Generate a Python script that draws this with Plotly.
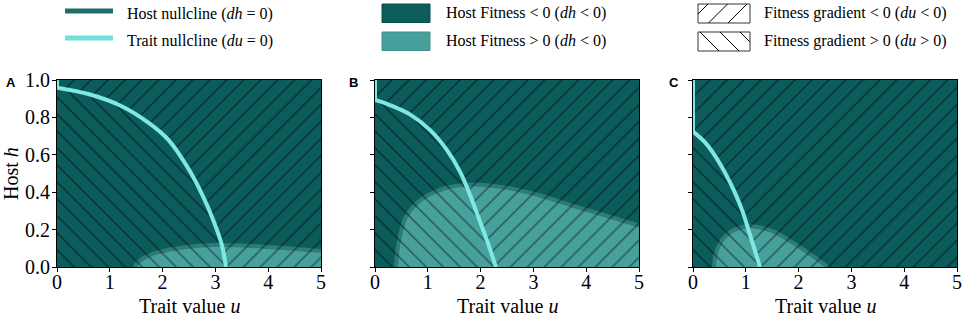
import plotly.graph_objects as go

W, H = 964, 317

# ---------------- data ----------------
X_RANGE = [0, 5]
Y_RANGE = [0, 1]
x_ticks = [0, 1, 2, 3, 4, 5]
y_ticks = [0.0, 0.2, 0.4, 0.6, 0.8, 1.0]

# Trait nullcline (du = 0); above the first point it runs straight up the h axis
trait_u_A = [0.0, 0.593, 1.225, 1.73, 2.11, 2.49, 2.77, 2.96, 3.12, 3.2]
trait_h_A = [0.959, 0.925, 0.86, 0.772, 0.68, 0.525, 0.375, 0.25, 0.12, 0.0]
trait_u_B = [0.0, 0.28, 0.66, 1.04, 1.36, 1.61, 1.8, 1.99, 2.15, 2.29]
trait_h_B = [0.893, 0.866, 0.816, 0.733, 0.626, 0.51, 0.385, 0.242, 0.118, 0.0]
trait_u_C = [0.0, 0.215, 0.405, 0.595, 0.785, 0.94, 1.1, 1.27]
trait_h_C = [0.724, 0.67, 0.6, 0.51, 0.403, 0.296, 0.153, 0.0]

# Host nullcline (dh = 0) bounding the region where host fitness > 0
host_u_A = [1.48, 1.52, 1.6, 1.75, 2.0, 2.5, 3.0, 3.5, 4.0, 4.5, 5.0]
host_h_A = [0.0, 0.02, 0.04, 0.063, 0.085, 0.108, 0.117, 0.115, 0.107, 0.097, 0.085]
host_u_B = [0.4, 0.43, 0.49, 0.58, 0.76, 1.01, 1.31, 1.67, 2.0, 2.46, 3.09, 3.72, 4.34, 5.0]
host_h_B = [0.0, 0.1, 0.185, 0.265, 0.333, 0.385, 0.42, 0.438, 0.44, 0.425, 0.385, 0.33, 0.278, 0.222]
host_u_C = [0.4, 0.43, 0.53, 0.72, 0.97, 1.12, 1.52, 1.9, 2.28, 2.55]
host_h_C = [0.0, 0.07, 0.135, 0.19, 0.215, 0.218, 0.19, 0.128, 0.057, 0.0]

panel_labels = ["A", "B", "C"]
x_title = "Trait value <i>u</i>"
y_title = "Host <i>h</i>"
legend_texts = [
    "Host nullcline (<i>dh</i> = 0)",
    "Trait nullcline (<i>du</i> = 0)",
    "Host Fitness &lt; 0 (<i>dh</i> &lt; 0)",
    "Host Fitness &gt; 0 (<i>dh</i> &lt; 0)",
    "Fitness gradient &lt; 0 (<i>du</i> &lt; 0)",
    "Fitness gradient &gt; 0 (<i>du</i> &gt; 0)",
]

# ---------------- style ----------------
DARK = "#0c5c5c"
LIGHT = "#47a09b"
BORDER = "#2c7c78"
CYAN = "#7fe8e2"
SERIF = "Liberation Serif, Times New Roman, serif"
SANS = "Liberation Sans, Arial, sans-serif"


def px(x):
    return x / W


def py(y):
    return 1 - y / H


panels = [
    (trait_u_A, trait_h_A, host_u_A, host_h_A),
    (trait_u_B, trait_h_B, host_u_B, host_h_B),
    (trait_u_C, trait_h_C, host_u_C, host_h_C),
]
x_doms = [(57, 321), (375, 639), (693, 957)]
y_dom = (80, 267)

fig = go.Figure()
layout = dict(
    width=W, height=H,
    margin=dict(l=0, r=0, t=0, b=0, autoexpand=False),
    paper_bgcolor="white",
    plot_bgcolor=DARK,
    showlegend=False,
)

pat_common = dict(fgcolor="black", bgcolor="rgba(0,0,0,0)", size=12, solidity=0.11)
NOLINE = dict(width=0, color="rgba(0,0,0,0)")

for i, (tu, th, hu, hh) in enumerate(panels):
    sfx = "" if i == 0 else str(i + 1)
    xa, ya = "x" + sfx, "y" + sfx
    kw = dict(xaxis=xa, yaxis=ya, hoverinfo="skip")
    # host fitness > 0 region, bounded by the host nullcline
    fig.add_trace(go.Scatter(x=hu, y=hh, mode="lines", fill="tozeroy",
                             fillcolor=LIGHT, line=dict(color=BORDER, width=4, shape="spline"),
                             **kw))
    # du > 0 region (below trait nullcline) -> "\" hatch
    fig.add_trace(go.Scatter(x=tu, y=th, mode="lines", fill="tozeroy",
                             fillcolor="rgba(0,0,0,0)",
                             line=dict(width=0, color="rgba(0,0,0,0)", shape="spline"),
                             fillpattern=dict(shape="\\", **pat_common), **kw))
    # upper/right boundary of the plot window (invisible helper)
    fig.add_trace(go.Scatter(x=[X_RANGE[0], X_RANGE[0], X_RANGE[1], X_RANGE[1]],
                             y=[th[0], Y_RANGE[1], Y_RANGE[1], Y_RANGE[0]],
                             mode="lines", line=NOLINE, **kw))
    # du < 0 region (above trait nullcline) -> "/" hatch
    fig.add_trace(go.Scatter(x=tu, y=th, mode="lines", fill="tonexty",
                             fillcolor="rgba(0,0,0,0)",
                             line=dict(width=0, color="rgba(0,0,0,0)", shape="spline"),
                             fillpattern=dict(shape="/", **pat_common), **kw))
    # trait nullcline: vertical part along the axis, then the curve
    fig.add_trace(go.Scatter(x=[tu[0], tu[0]], y=[Y_RANGE[1], th[0]], mode="lines",
                             line=dict(color=CYAN, width=4), **kw))
    fig.add_trace(go.Scatter(x=tu, y=th, mode="lines",
                             line=dict(color=CYAN, width=4, shape="spline"), **kw))

    axcommon = dict(showgrid=False, zeroline=False, showline=True, linecolor="black",
                    linewidth=1, mirror=True, ticks="outside", ticklen=4,
                    tickcolor="black", tickwidth=1, automargin=False,
                    ticklabeloverflow="allow",
                    tickfont=dict(family=SERIF, size=20, color="black"))
    layout["xaxis" + sfx] = dict(domain=[px(x_doms[i][0]), px(x_doms[i][1])], anchor=ya,
                                 range=X_RANGE, tickvals=x_ticks, ticklabelstandoff=-7,
                                 **axcommon)
    layout["yaxis" + sfx] = dict(domain=[py(y_dom[1]), py(y_dom[0])], anchor=xa,
                                 range=Y_RANGE, tickvals=y_ticks, tickformat=".1f",
                                 showticklabels=(i == 0), ticklabelstandoff=-2, **axcommon)

fig.update_layout(**layout)

ann = []
shapes = []
# panel letters
for lab, xl in zip(panel_labels, [10.5, 353.5, 673.5]):
    ann.append(dict(x=px(xl), y=py(83), xref="paper", yref="paper", text="<b>%s</b>" % lab,
                    showarrow=False, font=dict(family=SANS, size=13, color="black"),
                    xanchor="center", yanchor="middle"))
# axis titles
for (x0, x1) in x_doms:
    ann.append(dict(x=px((x0 + x1) / 2), y=py(306), xref="paper", yref="paper", text=x_title,
                    showarrow=False, font=dict(family=SERIF, size=20, color="black"),
                    xanchor="center", yanchor="middle"))
ann.append(dict(x=px(11), y=py(174), xref="paper", yref="paper", text=y_title, textangle=-90,
                showarrow=False, font=dict(family=SERIF, size=20, color="black"),
                xanchor="center", yanchor="middle"))

# legend texts
leg_pos = [(125, 14), (125, 41), (444, 13.5), (444, 41), (762, 13.5), (762, 41)]
for t, (lx, ly) in zip(legend_texts, leg_pos):
    ann.append(dict(x=px(lx), y=py(ly), xref="paper", yref="paper", text=t, showarrow=False,
                    font=dict(family=SERIF, size=16, color="black"),
                    xanchor="left", yanchor="middle"))


def pline(x0, y0, x1, y1, color, width):
    return dict(type="line", xref="paper", yref="paper", x0=px(x0), y0=py(y0),
                x1=px(x1), y1=py(y1), line=dict(color=color, width=width))


def prect(x0, y0, x1, y1, fill, edge):
    return dict(type="rect", xref="paper", yref="paper", x0=px(x0), y0=py(y0),
                x1=px(x1), y1=py(y1), fillcolor=fill, line=dict(color=edge, width=1))


shapes.append(pline(65, 11, 113, 11, "#1f6e6c", 5))
shapes.append(pline(65, 38, 113, 38, "#72dfd9", 5))
shapes.append(prect(382, 4, 430, 22.5, DARK, "#0a4c4c"))
shapes.append(prect(382, 32, 430, 50.5, LIGHT, "#3d918c"))
shapes.append(prect(698, 4, 750, 23, "white", "#2b3b3b"))
shapes.append(prect(698, 32, 750, 51, "white", "#2b3b3b"))


def clip_diag(bx0, by0, bx1, by1, c, sign):
    # sign=+1: "/" lines x + y = c ; sign=-1: "\" lines x - y = c
    pts = []
    for yy in (by0, by1):
        xx = c - yy if sign > 0 else c + yy
        if bx0 <= xx <= bx1:
            pts.append((xx, yy))
    for xx in (bx0, bx1):
        yy = c - xx if sign > 0 else xx - c
        if by0 <= yy <= by1:
            pts.append((xx, yy))
    pts = sorted(set(pts))
    if len(pts) >= 2:
        return pts[0], pts[-1]
    return None


for c in [712, 731.5, 751]:
    seg = clip_diag(698, 4, 750, 23, c, +1)
    if seg:
        shapes.append(pline(seg[0][0], seg[0][1], seg[1][0], seg[1][1], "black", 1))
for c in [668, 688, 708]:
    seg = clip_diag(698, 32, 750, 51, c, -1)
    if seg:
        shapes.append(pline(seg[0][0], seg[0][1], seg[1][0], seg[1][1], "black", 1))

fig.update_layout(annotations=ann, shapes=shapes)
fig.write_html("out.html", post_script="document.body.style.margin='0px';",
               config={"displayModeBar": False})
